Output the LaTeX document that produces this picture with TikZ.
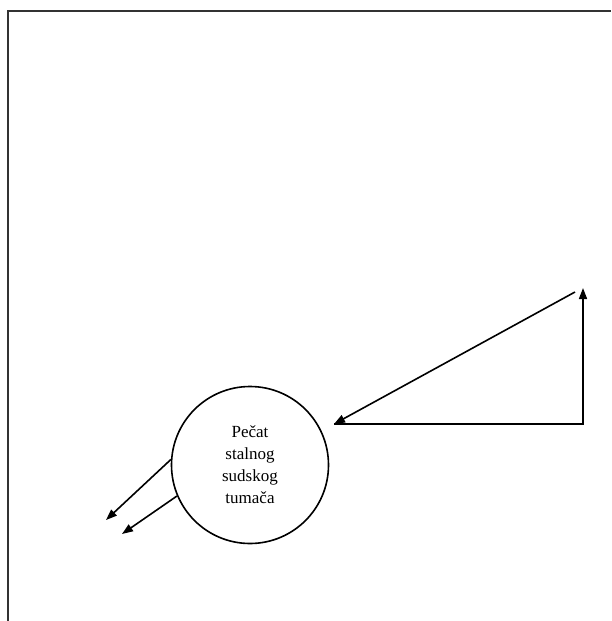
\documentclass[tikz,border=0pt]{standalone}
\usepackage{fontspec}
\setmainfont{Liberation Serif}
\usepackage{tikz}
\usetikzlibrary{arrows.meta,positioning}
\tikzset{
  sealcircle/.style={draw,circle,line width=1.6pt,minimum size=157pt,inner sep=0pt,align=center,font=\fontsize{17}{22}\selectfont},
  flowarrow/.style={-{Triangle[length=11pt,width=8pt]},line width=1.6pt,draw=black},
  framelink/.style={line width=1.8pt,draw=black!80}
}
\begin{document}
\begin{tikzpicture}[x=1pt,y=-1pt]
\useasboundingbox (0,0) rectangle (611,621);
% frame
\coordinate (frametl) at (8,11);
\coordinate (frametr) at (611,11);
\coordinate (framebl) at (8,621);
\draw[framelink] (framebl) -- (frametl) -- (frametr);
% seal
\node[sealcircle] (seal) at (250,465) {Pečat\\stalnog\\sudskog\\tumača};
% triangle of arrows
\coordinate (corner) at (583,424);
\coordinate (uptip) at (583,288);
\coordinate (diagtail) at (575,292);
\coordinate (diaghead) at (334,424);
\draw[flowarrow] (diaghead) -- (corner) -- (uptip);
\draw[flowarrow] (diagtail) -- (diaghead);
% outgoing arrows
\coordinate (outa) at (106,520);
\coordinate (outb) at (122,534);
\draw[flowarrow] (seal.176) -- (outa);
\draw[flowarrow] (seal.203) -- (outb);
\end{tikzpicture}
\end{document}
